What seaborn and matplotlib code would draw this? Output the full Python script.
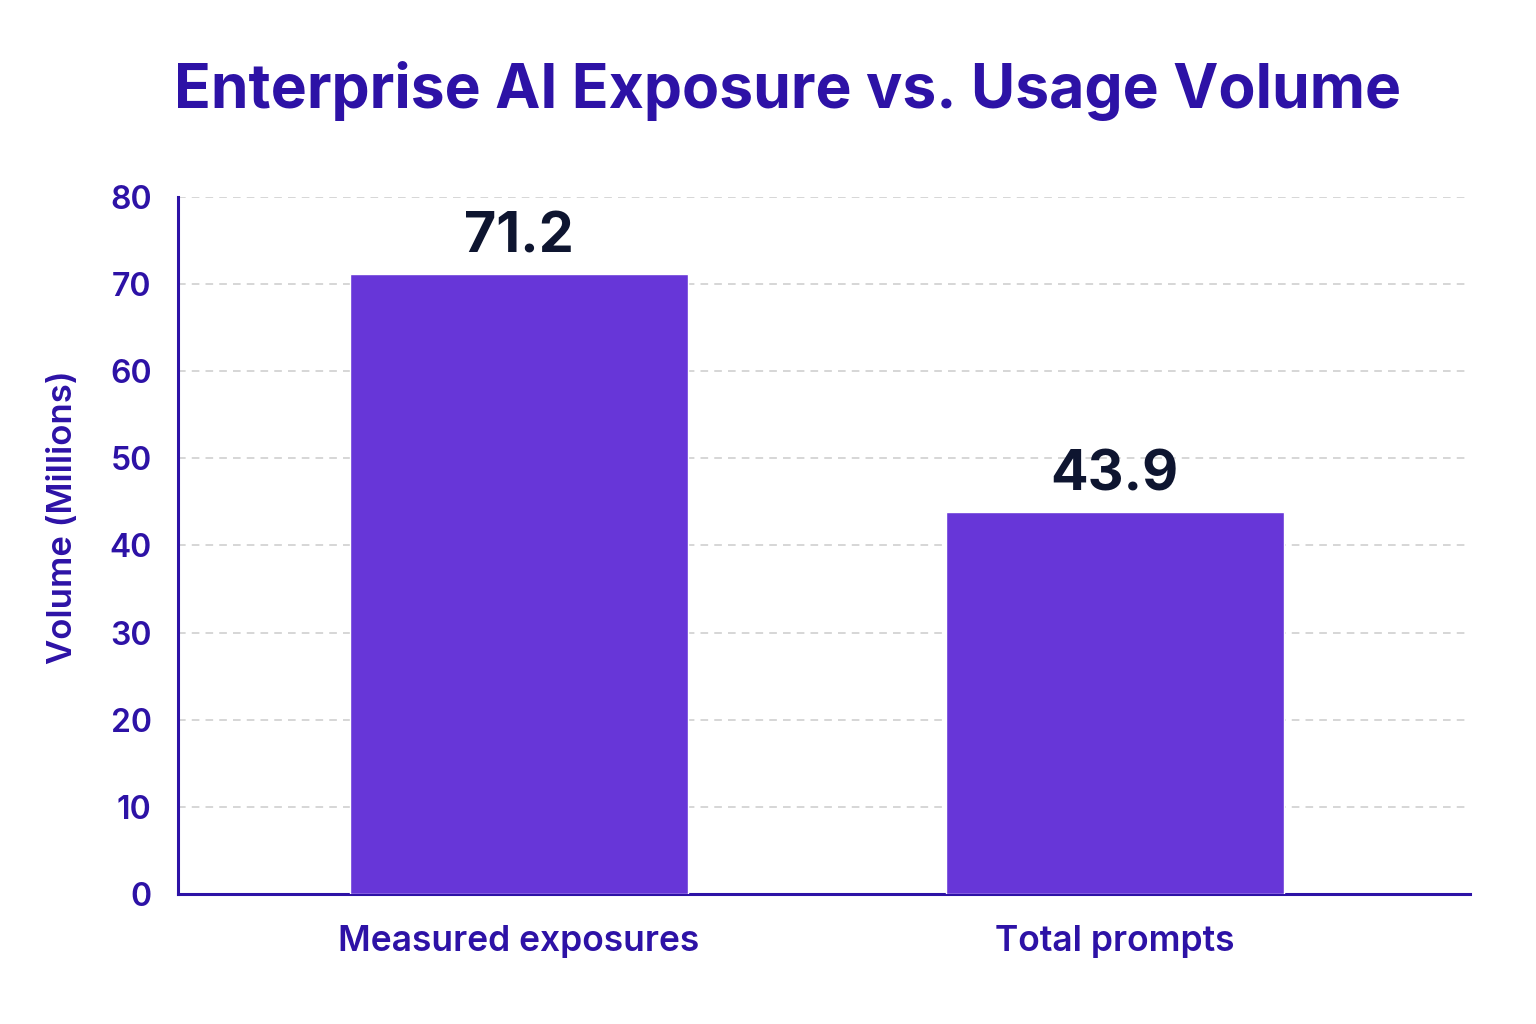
import matplotlib
matplotlib.use("Agg")
import matplotlib.pyplot as plt
import seaborn as sns
import pandas as pd

# data
categories = ["Measured exposures", "Total prompts"]
values = [71.2, 43.9]
y_ticks = [0, 10, 20, 30, 40, 50, 60, 70, 80]

text_color = "#2D12A6"
bar_color = "#6736D8"
label_color = "#0E1530"

sns.set_theme(style="white")
plt.rcParams["font.family"] = ["Inter", "DejaVu Sans"]

df = pd.DataFrame({"category": categories, "value": values})

fig = plt.figure(figsize=(15.36, 10.24), dpi=100)
ax = fig.add_axes([0.1159, 0.127, 0.8411, 0.6806])

sns.barplot(data=df, x="category", y="value", color=bar_color,
            width=0.567, saturation=1, ax=ax, zorder=3)

ax.set_xlim(-0.572, 1.596)
ax.set_ylim(0, 80)
ax.set_yticks(y_ticks)
ax.yaxis.grid(True, linestyle=(0, (5, 4)), color="#CCCCCC", linewidth=1.1, zorder=0)
ax.xaxis.grid(False)

for s in ["top", "right"]:
    ax.spines[s].set_visible(False)
for s in ["left", "bottom"]:
    ax.spines[s].set_color(text_color)
    ax.spines[s].set_linewidth(2.2)

ax.tick_params(axis="y", length=13, width=2.2, color=text_color,
               labelsize=23, labelcolor=text_color, pad=6)
ax.tick_params(axis="x", length=0, labelsize=25.5, labelcolor=text_color, pad=22)
for lbl in ax.get_yticklabels() + ax.get_xticklabels():
    lbl.set_fontweight("semibold")

ax.set_xlabel("")
ax.set_ylabel("Volume (Millions)", fontsize=25, color=text_color,
              fontweight="semibold", labelpad=20)
ax.yaxis.set_label_coords(-0.077, 0.54)

for i, v in enumerate(values):
    ax.text(i, v + 1.2, f"{v}", ha="center", va="bottom",
            fontsize=40, fontweight="bold", color=label_color)

fig.text(0.513, 0.911, "Enterprise AI Exposure vs. Usage Volume",
         ha="center", va="center", fontsize=43.7, fontweight="bold",
         color=text_color)

fig.savefig("out.png", dpi=100, facecolor="white")
